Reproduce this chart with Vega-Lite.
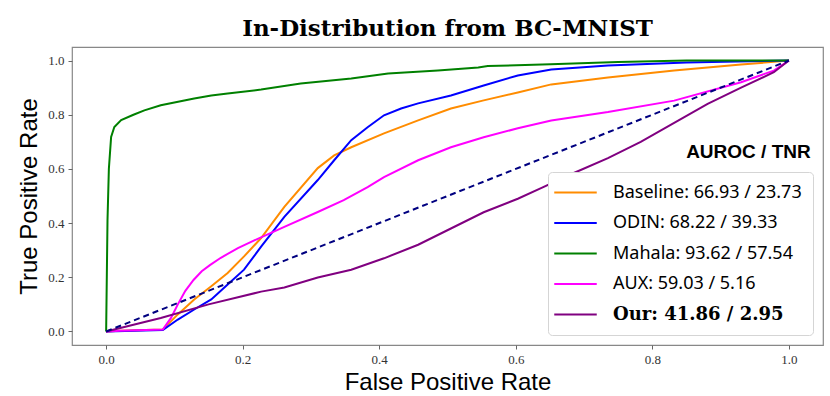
{
  "$schema": "https://vega.github.io/schema/vega-lite/v6.json",
  "width": 751,
  "height": 298,
  "autosize": {"type": "none"},
  "padding": {"left": 72, "top": 47, "right": 7, "bottom": 51},
  "background": "white",
  "title": {"text": "In-Distribution from BC-MNIST", "font": "DejaVu Serif", "fontSize": 23, "fontWeight": "bold", "color": "black", "offset": 6, "anchor": "middle"},
  "config": {
    "view": {"stroke": "#888888", "strokeWidth": 1.2},
    "axis": {"grid": false, "domain": false, "tickColor": "#666666", "tickSize": 4, "labelFont": "Liberation Serif", "labelFontSize": 13, "labelColor": "#333333", "labelPadding": 4, "titleFont": "Liberation Sans", "titleFontSize": 24, "titleFontWeight": "normal", "titleColor": "black"}
  },
  "datasets": {
    "roc": [
      {"label": "Baseline: 66.93 / 23.73", "fpr": 0, "tpr": 0},
      {"label": "Baseline: 66.93 / 23.73", "fpr": 0.02, "tpr": 0.003},
      {"label": "Baseline: 66.93 / 23.73", "fpr": 0.083, "tpr": 0.007},
      {"label": "Baseline: 66.93 / 23.73", "fpr": 0.105, "tpr": 0.063},
      {"label": "Baseline: 66.93 / 23.73", "fpr": 0.129, "tpr": 0.118},
      {"label": "Baseline: 66.93 / 23.73", "fpr": 0.154, "tpr": 0.167},
      {"label": "Baseline: 66.93 / 23.73", "fpr": 0.178, "tpr": 0.216},
      {"label": "Baseline: 66.93 / 23.73", "fpr": 0.202, "tpr": 0.277},
      {"label": "Baseline: 66.93 / 23.73", "fpr": 0.227, "tpr": 0.345},
      {"label": "Baseline: 66.93 / 23.73", "fpr": 0.261, "tpr": 0.46},
      {"label": "Baseline: 66.93 / 23.73", "fpr": 0.31, "tpr": 0.603},
      {"label": "Baseline: 66.93 / 23.73", "fpr": 0.334, "tpr": 0.65},
      {"label": "Baseline: 66.93 / 23.73", "fpr": 0.359, "tpr": 0.68},
      {"label": "Baseline: 66.93 / 23.73", "fpr": 0.407, "tpr": 0.731},
      {"label": "Baseline: 66.93 / 23.73", "fpr": 0.457, "tpr": 0.779},
      {"label": "Baseline: 66.93 / 23.73", "fpr": 0.505, "tpr": 0.823},
      {"label": "Baseline: 66.93 / 23.73", "fpr": 0.553, "tpr": 0.853},
      {"label": "Baseline: 66.93 / 23.73", "fpr": 0.603, "tpr": 0.882},
      {"label": "Baseline: 66.93 / 23.73", "fpr": 0.652, "tpr": 0.912},
      {"label": "Baseline: 66.93 / 23.73", "fpr": 0.735, "tpr": 0.937},
      {"label": "Baseline: 66.93 / 23.73", "fpr": 0.832, "tpr": 0.963},
      {"label": "Baseline: 66.93 / 23.73", "fpr": 0.93, "tpr": 0.985},
      {"label": "Baseline: 66.93 / 23.73", "fpr": 1, "tpr": 1},
      {"label": "ODIN: 68.22 / 39.33", "fpr": 0, "tpr": 0},
      {"label": "ODIN: 68.22 / 39.33", "fpr": 0.083, "tpr": 0.005},
      {"label": "ODIN: 68.22 / 39.33", "fpr": 0.105, "tpr": 0.044},
      {"label": "ODIN: 68.22 / 39.33", "fpr": 0.129, "tpr": 0.081},
      {"label": "ODIN: 68.22 / 39.33", "fpr": 0.154, "tpr": 0.118},
      {"label": "ODIN: 68.22 / 39.33", "fpr": 0.178, "tpr": 0.173},
      {"label": "ODIN: 68.22 / 39.33", "fpr": 0.202, "tpr": 0.228},
      {"label": "ODIN: 68.22 / 39.33", "fpr": 0.227, "tpr": 0.313},
      {"label": "ODIN: 68.22 / 39.33", "fpr": 0.261, "tpr": 0.423},
      {"label": "ODIN: 68.22 / 39.33", "fpr": 0.31, "tpr": 0.559},
      {"label": "ODIN: 68.22 / 39.33", "fpr": 0.334, "tpr": 0.632},
      {"label": "ODIN: 68.22 / 39.33", "fpr": 0.359, "tpr": 0.706},
      {"label": "ODIN: 68.22 / 39.33", "fpr": 0.383, "tpr": 0.754},
      {"label": "ODIN: 68.22 / 39.33", "fpr": 0.407, "tpr": 0.798},
      {"label": "ODIN: 68.22 / 39.33", "fpr": 0.432, "tpr": 0.823},
      {"label": "ODIN: 68.22 / 39.33", "fpr": 0.457, "tpr": 0.842},
      {"label": "ODIN: 68.22 / 39.33", "fpr": 0.505, "tpr": 0.871},
      {"label": "ODIN: 68.22 / 39.33", "fpr": 0.553, "tpr": 0.908},
      {"label": "ODIN: 68.22 / 39.33", "fpr": 0.603, "tpr": 0.945},
      {"label": "ODIN: 68.22 / 39.33", "fpr": 0.652, "tpr": 0.967},
      {"label": "ODIN: 68.22 / 39.33", "fpr": 0.735, "tpr": 0.982},
      {"label": "ODIN: 68.22 / 39.33", "fpr": 0.85, "tpr": 0.993},
      {"label": "ODIN: 68.22 / 39.33", "fpr": 1, "tpr": 1},
      {"label": "Mahala: 93.62 / 57.54", "fpr": 0, "tpr": 0},
      {"label": "Mahala: 93.62 / 57.54", "fpr": 0.002, "tpr": 0.41},
      {"label": "Mahala: 93.62 / 57.54", "fpr": 0.004, "tpr": 0.6},
      {"label": "Mahala: 93.62 / 57.54", "fpr": 0.0073, "tpr": 0.718},
      {"label": "Mahala: 93.62 / 57.54", "fpr": 0.012, "tpr": 0.755},
      {"label": "Mahala: 93.62 / 57.54", "fpr": 0.022, "tpr": 0.78},
      {"label": "Mahala: 93.62 / 57.54", "fpr": 0.04, "tpr": 0.8},
      {"label": "Mahala: 93.62 / 57.54", "fpr": 0.056, "tpr": 0.816},
      {"label": "Mahala: 93.62 / 57.54", "fpr": 0.08, "tpr": 0.835},
      {"label": "Mahala: 93.62 / 57.54", "fpr": 0.129, "tpr": 0.86},
      {"label": "Mahala: 93.62 / 57.54", "fpr": 0.154, "tpr": 0.871},
      {"label": "Mahala: 93.62 / 57.54", "fpr": 0.178, "tpr": 0.878},
      {"label": "Mahala: 93.62 / 57.54", "fpr": 0.227, "tpr": 0.893},
      {"label": "Mahala: 93.62 / 57.54", "fpr": 0.285, "tpr": 0.915},
      {"label": "Mahala: 93.62 / 57.54", "fpr": 0.359, "tpr": 0.934},
      {"label": "Mahala: 93.62 / 57.54", "fpr": 0.413, "tpr": 0.952},
      {"label": "Mahala: 93.62 / 57.54", "fpr": 0.486, "tpr": 0.963},
      {"label": "Mahala: 93.62 / 57.54", "fpr": 0.545, "tpr": 0.974},
      {"label": "Mahala: 93.62 / 57.54", "fpr": 0.559, "tpr": 0.98},
      {"label": "Mahala: 93.62 / 57.54", "fpr": 0.651, "tpr": 0.986},
      {"label": "Mahala: 93.62 / 57.54", "fpr": 0.75, "tpr": 0.995},
      {"label": "Mahala: 93.62 / 57.54", "fpr": 0.85, "tpr": 1},
      {"label": "Mahala: 93.62 / 57.54", "fpr": 1, "tpr": 1},
      {"label": "AUX: 59.03 / 5.16", "fpr": 0, "tpr": 0},
      {"label": "AUX: 59.03 / 5.16", "fpr": 0.02, "tpr": 0.003},
      {"label": "AUX: 59.03 / 5.16", "fpr": 0.083, "tpr": 0.007},
      {"label": "AUX: 59.03 / 5.16", "fpr": 0.095, "tpr": 0.05},
      {"label": "AUX: 59.03 / 5.16", "fpr": 0.105, "tpr": 0.1},
      {"label": "AUX: 59.03 / 5.16", "fpr": 0.116, "tpr": 0.15},
      {"label": "AUX: 59.03 / 5.16", "fpr": 0.128, "tpr": 0.19},
      {"label": "AUX: 59.03 / 5.16", "fpr": 0.14, "tpr": 0.222},
      {"label": "AUX: 59.03 / 5.16", "fpr": 0.152, "tpr": 0.245},
      {"label": "AUX: 59.03 / 5.16", "fpr": 0.168, "tpr": 0.272},
      {"label": "AUX: 59.03 / 5.16", "fpr": 0.193, "tpr": 0.308},
      {"label": "AUX: 59.03 / 5.16", "fpr": 0.217, "tpr": 0.336},
      {"label": "AUX: 59.03 / 5.16", "fpr": 0.261, "tpr": 0.386},
      {"label": "AUX: 59.03 / 5.16", "fpr": 0.31, "tpr": 0.441},
      {"label": "AUX: 59.03 / 5.16", "fpr": 0.348, "tpr": 0.485},
      {"label": "AUX: 59.03 / 5.16", "fpr": 0.383, "tpr": 0.533},
      {"label": "AUX: 59.03 / 5.16", "fpr": 0.407, "tpr": 0.57},
      {"label": "AUX: 59.03 / 5.16", "fpr": 0.457, "tpr": 0.632},
      {"label": "AUX: 59.03 / 5.16", "fpr": 0.505, "tpr": 0.68},
      {"label": "AUX: 59.03 / 5.16", "fpr": 0.553, "tpr": 0.717},
      {"label": "AUX: 59.03 / 5.16", "fpr": 0.603, "tpr": 0.75},
      {"label": "AUX: 59.03 / 5.16", "fpr": 0.652, "tpr": 0.779},
      {"label": "AUX: 59.03 / 5.16", "fpr": 0.735, "tpr": 0.81},
      {"label": "AUX: 59.03 / 5.16", "fpr": 0.832, "tpr": 0.852},
      {"label": "AUX: 59.03 / 5.16", "fpr": 0.93, "tpr": 0.92},
      {"label": "AUX: 59.03 / 5.16", "fpr": 0.978, "tpr": 0.963},
      {"label": "AUX: 59.03 / 5.16", "fpr": 1, "tpr": 1},
      {"label": "Our: 41.86 / 2.95", "fpr": 0, "tpr": 0},
      {"label": "Our: 41.86 / 2.95", "fpr": 0.08, "tpr": 0.05},
      {"label": "Our: 41.86 / 2.95", "fpr": 0.15, "tpr": 0.1},
      {"label": "Our: 41.86 / 2.95", "fpr": 0.227, "tpr": 0.147},
      {"label": "Our: 41.86 / 2.95", "fpr": 0.261, "tpr": 0.162},
      {"label": "Our: 41.86 / 2.95", "fpr": 0.31, "tpr": 0.199},
      {"label": "Our: 41.86 / 2.95", "fpr": 0.359, "tpr": 0.228},
      {"label": "Our: 41.86 / 2.95", "fpr": 0.407, "tpr": 0.27},
      {"label": "Our: 41.86 / 2.95", "fpr": 0.457, "tpr": 0.32},
      {"label": "Our: 41.86 / 2.95", "fpr": 0.505, "tpr": 0.38},
      {"label": "Our: 41.86 / 2.95", "fpr": 0.553, "tpr": 0.44},
      {"label": "Our: 41.86 / 2.95", "fpr": 0.603, "tpr": 0.49},
      {"label": "Our: 41.86 / 2.95", "fpr": 0.637, "tpr": 0.529},
      {"label": "Our: 41.86 / 2.95", "fpr": 0.685, "tpr": 0.585},
      {"label": "Our: 41.86 / 2.95", "fpr": 0.735, "tpr": 0.64},
      {"label": "Our: 41.86 / 2.95", "fpr": 0.783, "tpr": 0.7},
      {"label": "Our: 41.86 / 2.95", "fpr": 0.832, "tpr": 0.77},
      {"label": "Our: 41.86 / 2.95", "fpr": 0.881, "tpr": 0.84},
      {"label": "Our: 41.86 / 2.95", "fpr": 0.93, "tpr": 0.9},
      {"label": "Our: 41.86 / 2.95", "fpr": 0.978, "tpr": 0.957},
      {"label": "Our: 41.86 / 2.95", "fpr": 1, "tpr": 1}
    ],
    "diag": [
      {"fpr": 0, "tpr": 0},
      {"fpr": 1, "tpr": 1}
    ],
    "legendtitle": [
      {"caption": "AUROC / TNR"}
    ]
  },
  "layer": [
    {
      "data": {"name": "roc"},
      "mark": {"type": "line", "strokeWidth": 2, "interpolate": "linear"},
      "encoding": {
        "x": {"field": "fpr", "type": "quantitative", "scale": {"domain": [-0.05, 1.05], "nice": false, "zero": false}, "axis": {"title": "False Positive Rate", "values": [0, 0.2, 0.4, 0.6, 0.8, 1.0], "format": ".1f", "titlePadding": 4}},
        "y": {"field": "tpr", "type": "quantitative", "scale": {"domain": [-0.05, 1.05], "nice": false, "zero": false}, "axis": {"title": "True Positive Rate", "values": [0, 0.2, 0.4, 0.6, 0.8, 1.0], "format": ".1f", "titlePadding": 6}},
        "color": {
          "field": "label", "type": "nominal",
          "scale": {"domain": ["Baseline: 66.93 / 23.73", "ODIN: 68.22 / 39.33", "Mahala: 93.62 / 57.54", "AUX: 59.03 / 5.16", "Our: 41.86 / 2.95"], "range": ["#ff8c00", "#0000ff", "#008000", "#ff00ff", "#800080"]},
          "legend": {
            "title": null, "orient": "bottom-right", "offset": 10,
            "fillColor": "white", "strokeColor": "#d5d5d5", "cornerRadius": 4, "padding": 11,
            "symbolType": "M-2.5,0H2.5", "symbolSize": 289, "symbolStrokeWidth": 2, "symbolOffset": 7,
            "labelOffset": 28, "labelFont": "Noto Sans", "labelFontSize": 18, "labelColor": "black", "labelLimit": 400,
            "rowPadding": 11.5,
            "encode": {"labels": {"update": {
              "font": {"signal": "indexof(datum.label, 'Our') == 0 ? 'DejaVu Serif' : 'Noto Sans'"},
              "fontWeight": {"signal": "indexof(datum.label, 'Our') == 0 ? 'bold' : 'normal'"}
            }}}
          }
        }
      }
    },
    {
      "data": {"name": "diag"},
      "mark": {"type": "line", "color": "#000080", "strokeWidth": 2, "strokeDash": [6, 4]},
      "encoding": {
        "x": {"field": "fpr", "type": "quantitative"},
        "y": {"field": "tpr", "type": "quantitative"}
      }
    },
    {
      "data": {"name": "legendtitle"},
      "mark": {"type": "text", "font": "Liberation Sans", "fontSize": 19, "fontWeight": "bold", "align": "right", "baseline": "middle", "color": "black"},
      "encoding": {
        "x": {"datum": 1.032},
        "y": {"datum": 0.662},
        "text": {"field": "caption"}
      }
    }
  ]
}
